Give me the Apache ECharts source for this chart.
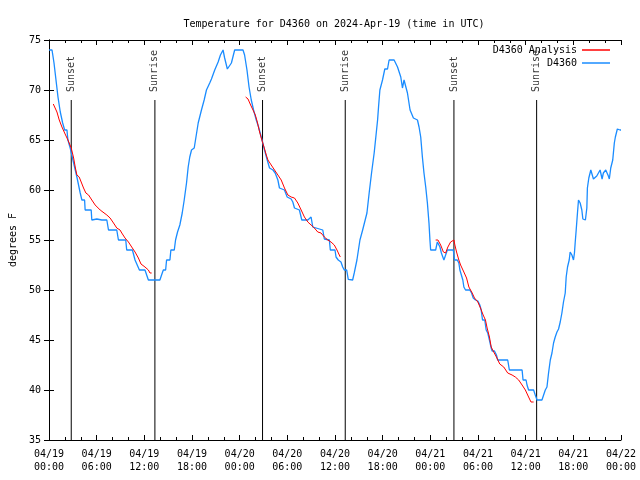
<!DOCTYPE html>
<html>
<head>
<meta charset="utf-8">
<script src="https://cdn.jsdelivr.net/npm/echarts@6/dist/echarts.min.js"></script>
<style>html,body{margin:0;padding:0;background:#fff}#c{width:640px;height:480px}</style>
</head>
<body>
<div id="c"></div>
<script>
// Hours since 2024-04-19 00:00 UTC
var obsHours = [0.00,0.38,0.63,0.88,1.13,1.42,1.72,1.97,2.26,2.38,2.67,3.10,3.51,3.93,4.14,4.48,4.55,5.31,5.39,6.02,6.65,7.28,7.49,8.53,8.74,9.66,9.78,10.50,10.83,11.38,12.08,12.51,13.96,14.17,14.39,14.68,14.80,15.22,15.34,15.77,15.93,16.18,16.47,16.77,17.02,17.31,17.52,17.72,17.94,18.28,18.44,18.78,19.19,19.53,19.82,20.23,20.45,20.86,21.29,21.58,21.91,22.11,22.45,22.67,22.96,23.37,24.42,24.62,24.92,25.18,25.46,25.75,26.09,26.38,26.72,27.13,27.47,27.76,28.19,28.47,28.81,29.01,29.64,29.98,30.48,30.69,30.90,31.52,31.82,32.58,32.74,32.99,33.20,34.46,34.66,35.29,35.41,36.00,36.13,36.41,36.75,36.97,37.17,37.47,37.67,38.22,38.42,38.76,39.14,39.48,40.02,40.30,40.60,40.93,41.14,41.36,41.48,41.65,41.98,42.27,42.61,42.81,43.44,43.87,44.28,44.49,44.69,44.91,45.12,45.45,45.87,46.38,46.58,46.79,47.00,47.20,47.42,47.63,47.83,47.95,48.04,48.67,48.88,49.01,49.21,49.39,49.71,49.92,50.14,50.89,51.05,51.39,51.59,51.72,51.93,52.09,52.22,52.43,52.97,53.19,53.40,53.69,53.98,54.23,54.40,54.57,54.85,55.03,55.23,55.44,55.66,55.78,56.07,56.32,56.48,57.74,57.95,59.55,59.67,60.05,60.17,60.37,61.00,61.21,61.43,62.05,62.26,62.47,62.68,62.88,63.10,63.31,63.51,63.72,63.94,64.14,64.35,64.56,64.76,64.98,65.10,65.27,65.48,65.60,65.82,66.02,66.14,66.23,66.36,66.52,66.65,66.86,67.07,67.20,67.52,67.70,67.77,67.95,68.20,68.53,68.95,69.37,69.62,69.78,70.08,70.41,70.53,70.71,70.96,71.16,71.29,71.54,71.88,72.00];
var obsTemps = [74,74,72.7,71,69.3,67.8,66.7,66,66,65,64.2,62.7,61.3,59.7,59,59,58,58,57,57.1,57,57,56,56,55,55,54,54,53,52,52,51,51,51.5,52,52,53,53,54,54,55,55.8,56.5,57.7,59,60.7,62.3,63.3,64,64.2,65,66.7,68,69,70,70.7,71.1,72,72.8,73.5,74,73.2,72.1,72.1,72.7,74,74,73.5,72,70.3,69,68,67,66.3,65.3,64,63,62.2,62,61.7,61,60.2,60,59.3,59.1,58.8,58.2,58,57,57,57,57.3,56.3,56,55.1,55,54,54,53.3,53,52.8,52.3,52,52,51.07,51,51.7,53,55,56,57.7,59.7,61.7,63.7,65.3,67,68.3,70,71,72.1,72.1,73,73,72.3,71.3,70.2,71,71,69.7,68,67.2,67,66.3,65.3,63.3,61.7,60.3,58.7,56.7,55,54,54,54.8,55,54.3,53.7,53,53,54,54,53,53,52.7,52,52,51,50.3,50,50,49.7,49.2,49,48.9,48.5,48,47,47,46,45.7,45,44.2,43.9,43.9,43.5,43,43,42,42,41,41,40.5,40,40,39.5,39,39,39.5,40,40.3,41.7,43,43.7,44.7,45.3,45.8,46.1,46.8,47.7,48.8,49.7,51.3,52.3,53,53.8,53.5,53,53.7,54.7,56,57.7,59,58.7,58,57.1,57,58.2,60.2,61.2,62,61.1,61.4,62,61.1,61.7,62,61.4,61.1,62.2,63,64.7,65.3,66.1,66,66];

// Analysis (three segments, null = gap)
var anaHours = [0.54,0.79,1.00,1.29,1.63,1.97,2.38,2.80,3.10,3.30,3.51,3.80,4.05,4.35,4.64,4.98,5.39,5.81,6.44,7.28,7.69,8.12,8.53,8.94,9.16,9.57,10.00,10.41,10.83,11.25,11.58,12.08,12.51,12.71,12.92,
  18.0,
  24.75,25.05,25.38,25.68,25.97,26.22,26.51,26.72,27.06,27.35,27.56,27.97,28.39,28.81,29.23,29.64,30.07,30.48,30.90,31.32,31.74,32.15,32.58,32.99,33.40,33.83,34.24,34.66,35.09,35.50,35.91,36.25,36.54,36.67,
  42.0,
  48.67,48.96,49.30,49.64,49.92,50.21,50.55,50.80,50.97,51.09,51.30,51.59,51.81,52.02,52.22,52.56,52.85,53.27,53.56,53.98,54.31,54.65,54.94,55.15,55.44,55.66,55.98,56.32,56.74,57.24,57.74,58.29,58.70,59.12,59.55,59.96,60.37,60.67,61.00];
var anaTemps = [68.6,68.5,67.8,67,66.3,65.7,65,64.2,63.2,62.3,61.5,61.3,60.8,60.2,59.7,59.5,59,58.5,58,57.5,57.2,56.7,56.2,56,55.7,55.2,54.8,54.3,53.8,53.2,52.6,52.3,52,51.7,51.7,
  null,
  69.3,69.1,68.5,68,67.5,66.8,65.8,65.2,64.3,63.5,63,62.5,62,61.5,61,60.2,59.5,59.3,59.2,58.7,58,57.3,56.8,56.5,56.2,55.8,55.7,55.3,55,54.8,54.5,54,53.5,53.3,
  null,
  55,55,54.5,53.8,53.7,54.3,54.8,55,55,54.5,53.8,53,52.5,52.3,51.8,51.2,50.3,49.7,49.2,48.8,48.2,47.5,47,46.2,45.3,44.3,43.8,43.3,42.6,42.3,41.7,41.5,41.3,41,40.5,40,39.3,38.8,38.8];

var sunHours = [2.80, 13.33, 26.88, 37.29, 50.97, 61.38];
var sunLabels = ['Sunset','Sunrise','Sunset','Sunrise','Sunset','Sunrise'];
var sunLineTop = 69, sunLabelAt = 69.8;

var xTickLabels = ['04/19\n00:00','04/19\n06:00','04/19\n12:00','04/19\n18:00','04/20\n00:00','04/20\n06:00','04/20\n12:00','04/20\n18:00','04/21\n00:00','04/21\n06:00','04/21\n12:00','04/21\n18:00','04/22\n00:00'];

var FONT = 'DejaVu Sans Mono';
var obsData = obsHours.map(function(h,i){return [h, obsTemps[i]];});
var anaData = anaHours.map(function(h,i){return [h, anaTemps[i] == null ? '-' : anaTemps[i]];});
var sunLineData = [];
sunHours.forEach(function(h){ sunLineData.push([h, sunLineTop]); sunLineData.push([h, 35]); sunLineData.push([h, '-']); });
var sunLabelData = sunHours.map(function(h,i){ return {value:[h, sunLabelAt], label:{formatter: sunLabels[i]}}; });

var chart = echarts.init(document.getElementById('c'), null, {renderer:'canvas'});
var xCommon = {type:'value', min:0, max:72, interval:6,
  axisLine:{show:true, lineStyle:{color:'#000', width:1}},
  axisTick:{show:true, inside:true, length:5, lineStyle:{color:'#000'}},
  minorTick:{show:true, splitNumber:3, length:3, lineStyle:{color:'#000'}},
  splitLine:{show:false}};
var yCommon = {type:'value', min:35, max:75, interval:5,
  axisLine:{show:true, lineStyle:{color:'#000', width:1}},
  axisTick:{show:true, inside:true, length:5, lineStyle:{color:'#000'}},
  splitLine:{show:false}};
chart.setOption({
  animation:false,
  backgroundColor:'#fff',
  title:{text:'Temperature for D4360 on 2024-Apr-19 (time in UTC)', left:334, textAlign:'center', top:18, padding:0,
    textStyle:{fontFamily:FONT, fontSize:10, fontWeight:'normal', color:'#000', lineHeight:12}},
  grid:{left:47, right:19, top:40, bottom:40},
  legend:[
    {data:['D4360 Analysis'], right:30, top:44, padding:0, align:'right', icon:'rect', itemWidth:28, itemHeight:1.5,
     textStyle:{fontFamily:FONT, fontSize:10, color:'#000', lineHeight:12}},
    {data:['D4360'], right:30, top:57, padding:0, align:'right', icon:'rect', itemWidth:28, itemHeight:1.5,
     textStyle:{fontFamily:FONT, fontSize:10, color:'#000', lineHeight:12}}
  ],
  xAxis:[
    Object.assign({}, xCommon, {position:'bottom',
      axisLabel:{show:true, margin:8, fontFamily:FONT, fontSize:10, color:'#000', lineHeight:13,
        formatter:function(v){ return xTickLabels[Math.round(v/6)] || ''; }}}),
    Object.assign({}, xCommon, {position:'top', axisLabel:{show:false}})
  ],
  yAxis:[
    Object.assign({}, yCommon, {position:'left', name:'degrees F', nameLocation:'middle', nameRotate:90, nameGap:31,
      nameTextStyle:{fontFamily:FONT, fontSize:10, color:'#000'},
      axisLabel:{show:true, margin:8, fontFamily:FONT, fontSize:10, color:'#000'}}),
    Object.assign({}, yCommon, {position:'right', axisLabel:{show:false}})
  ],
  series:[
    {name:'sun', type:'line', data:sunLineData, showSymbol:false, symbol:'none', silent:true,
     lineStyle:{color:'#000', width:1}, connectNulls:false, z:1},
    {name:'sunlabels', type:'scatter', data:sunLabelData, symbolSize:0, silent:true,
     label:{show:true, position:[0,0], rotate:90, align:'left', verticalAlign:'middle',
       fontFamily:FONT, fontSize:10, color:'#000'}},
    {name:'D4360 Analysis', type:'line', data:anaData, showSymbol:false, symbol:'none', connectNulls:false,
     color:'#ff0000', lineStyle:{color:'#ff0000', width:1}, z:3},
    {name:'D4360', type:'line', data:obsData, showSymbol:false, symbol:'none',
     color:'#1a8cff', lineStyle:{color:'#1a8cff', width:1.3}, z:2}
  ]
});
</script>
</body>
</html>
